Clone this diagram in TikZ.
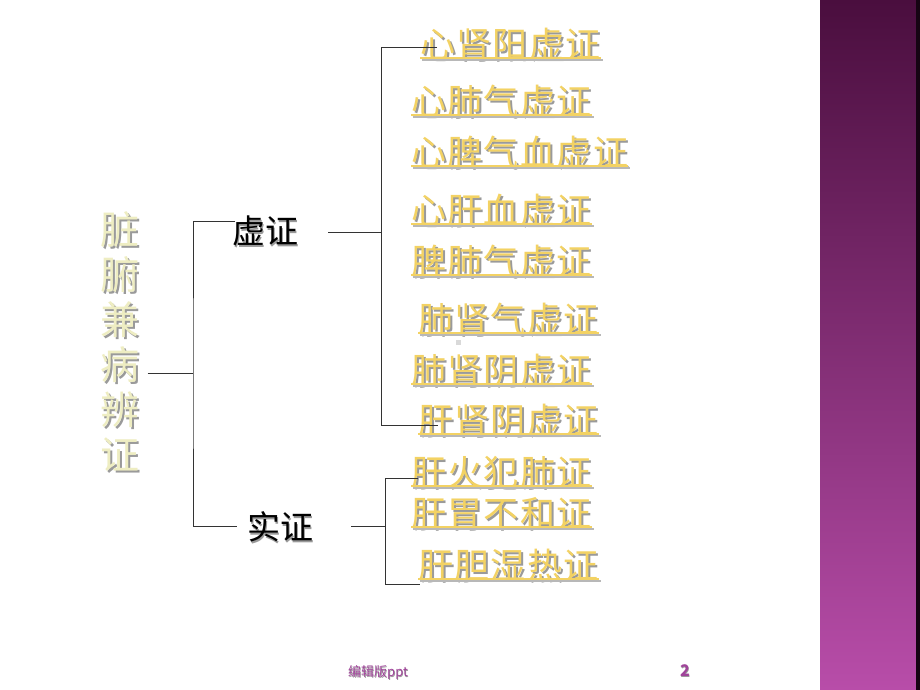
\documentclass[tikz,border=0pt]{standalone}
\usepackage{fontspec}
\setmainfont{Noto Sans CJK SC}
\usetikzlibrary{calc}
\definecolor{gold}{HTML}{F3D263}
\definecolor{pale}{HTML}{EEEDC2}
\definecolor{shgray}{HTML}{9A9A9A}
\definecolor{barTop}{HTML}{4A0E3E}
\definecolor{barBot}{HTML}{B84DA9}
\definecolor{foot}{HTML}{A0449A}
\definecolor{linec}{HTML}{333333}
\newcommand{\shtext}[3]{\makebox[0pt][l]{\hspace{#2}\raisebox{-#2}{\textcolor{shgray}{#3}}}\textcolor{#1}{#3}}
\newcommand{\ulitem}[1]{%
  \draw[line width=2.2pt,shgray!70] ([xshift=1.5pt,yshift=-2.5pt]#1.base west) -- ([xshift=1.5pt,yshift=-2.5pt]#1.base east);
  \draw[line width=2pt,gold] ([yshift=-1pt]#1.base west) -- ([yshift=-1pt]#1.base east);}
\begin{document}
\begin{tikzpicture}[x=1pt,y=-1pt,
  item/.style={inner sep=0pt,anchor=west,font=\fontsize{35}{35}\selectfont\addfontfeature{LetterSpace=4}},
  mid/.style={inner sep=0pt,anchor=west,font=\fontsize{33}{33}\selectfont},
  conn/.style={draw=linec,line width=1pt}]
\useasboundingbox (0,0) rectangle (920,690);
\fill[white] (0,0) rectangle (920,690);
% sidebar
\shade[top color=barTop,bottom color=barBot] (820,0) rectangle (920,690);
\fill[black!70!barTop] (916,0) rectangle (920,690);
% title
\node[inner sep=0pt,align=center,font=\fontsize{39}{45}\selectfont] (title) at (120,343)
  {\shtext{pale}{2pt}{脏}\\\shtext{pale}{2pt}{腑}\\\shtext{pale}{2pt}{兼}\\\shtext{pale}{2pt}{病}\\\shtext{pale}{2pt}{辨}\\\shtext{pale}{2pt}{证}};
% level 2
\node[mid] (xu) at (232,232) {\shtext{black}{1.5pt}{虚证}};
\node[mid] (su) at (247,528) {\shtext{black}{1.5pt}{实证}};
% items
\node[item] (i1) at (420,45) {\shtext{gold}{2pt}{心肾阳虚证}};
\node[item] (i2) at (411,102) {\shtext{gold}{2pt}{心肺气虚证}};
\node[item] (i3) at (411,153) {\shtext{gold}{2pt}{心脾气血虚证}};
\node[item] (i4) at (411,211) {\shtext{gold}{2pt}{心肝血虚证}};
\node[item] (i5) at (411,262) {\shtext{gold}{2pt}{脾肺气虚证}};
\node[item] (i6) at (418,320) {\shtext{gold}{2pt}{肺肾气虚证}};
\node[item] (i7) at (411,371) {\shtext{gold}{2pt}{肺肾阴虚证}};
\node[item] (i8) at (418,421) {\shtext{gold}{2pt}{肝肾阴虚证}};
\node[item] (i9) at (411,473) {\shtext{gold}{2pt}{肝火犯肺证}};
\node[item] (i10) at (411,514) {\shtext{gold}{2pt}{肝胃不和证}};
\node[item] (i11) at (418,566) {\shtext{gold}{2pt}{肝胆湿热证}};
\foreach \n in {i1,i2,i3,i4,i5,i6,i7,i8,i9,i10,i11}{\ulitem{\n}}
% small artifact
\fill[black!15] (456,340) rectangle (461,345);
% connectors
\draw[conn] ([xshift=8pt]title.east |- 0,373) -- (193,373) coordinate (ax);
\draw[conn] ([xshift=3pt,yshift=11pt]xu.west) -| (ax) |- ([xshift=-10pt,yshift=2pt]su.west);
\draw[conn] ([xshift=30pt]xu.east) -- ++(53,0) coordinate (bx);
\draw[conn] ([xshift=17pt,yshift=-3pt]i1.west) -| (bx) |- ([xshift=20pt,yshift=-4pt]i8.west);
\draw[conn] ([xshift=38pt,yshift=2pt]su.east) -- ++(34,0) coordinate (cx);
\draw[conn] ([xshift=7pt,yshift=-5pt]i9.west) -| (cx) |- ([xshift=2pt,yshift=-18pt]i11.west);
% footer
\node[inner sep=0pt,anchor=west,font=\fontsize{13}{13}\selectfont] (foot) at (348,673) {\shtext{foot}{0.6pt}{编辑版ppt}};
\node[inner sep=0pt,font=\fontsize{16}{16}\selectfont\bfseries] (pg) at (685,671) {\shtext{foot}{0.6pt}{2}};
\end{tikzpicture}
\end{document}
